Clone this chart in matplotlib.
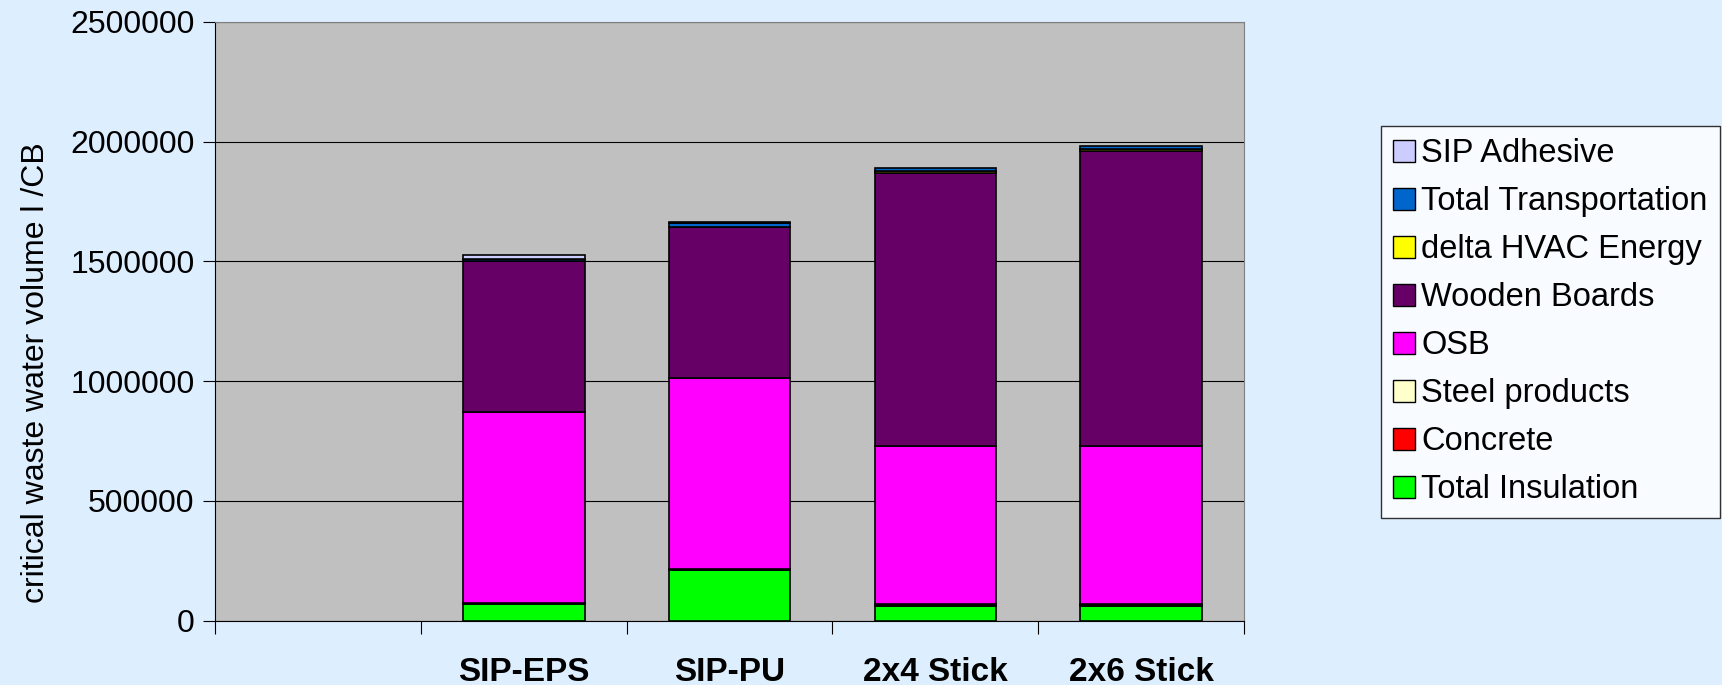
import matplotlib
matplotlib.use('Agg')
import matplotlib.pyplot as plt
import matplotlib.ticker as mticker
import numpy as np
from matplotlib.patches import Patch

plt.rcParams['font.family'] = ['Liberation Sans', 'DejaVu Sans']

categories = ['', 'SIP-EPS', 'SIP-PU', '2x4 Stick', '2x6 Stick']

# stacked from the bottom up
total_insulation = [0, 70000, 210000, 62000, 62000]
concrete = [0, 2000, 2000, 3000, 3000]
steel_products = [0, 3000, 3000, 5000, 5000]
osb = [0, 795000, 800000, 660000, 660000]
wooden_boards = [0, 630000, 630000, 1140000, 1230000]
delta_hvac = [0, 0, 0, 8000, 8000]
transportation = [0, 8000, 15000, 12000, 12000]
sip_adhesive = [0, 18000, 5000, 0, 0]

series = [
    ('Total Insulation', total_insulation, '#00FF00'),
    ('Concrete', concrete, '#FF0000'),
    ('Steel products', steel_products, '#FFFFCC'),
    ('OSB', osb, '#FF00FF'),
    ('Wooden Boards', wooden_boards, '#660066'),
    ('delta HVAC Energy', delta_hvac, '#FFFF00'),
    ('Total Transportation', transportation, '#0066CC'),
    ('SIP Adhesive', sip_adhesive, '#CCCCFF'),
]

bg = '#DDEEFF'
fig = plt.figure(figsize=(17.22, 6.85), dpi=100, facecolor=bg)
ax = fig.add_axes([0.125, 0.094, 0.5974, 0.874])
ax.set_facecolor('#C0C0C0')

x = np.arange(len(categories))
bottom = np.zeros(len(categories))
for name, vals, color in series:
    vals = np.array(vals, dtype=float)
    show = vals > 0
    ax.bar(x[show], vals[show], 0.59, bottom=bottom[show], color=color,
           edgecolor='black', linewidth=1.2, zorder=3)
    bottom += vals

ax.set_xlim(-0.5, len(categories) - 0.5)
ax.set_ylim(0, 2500000)
ax.set_yticks(np.arange(0, 2500001, 500000))
ax.yaxis.set_major_formatter(mticker.FuncFormatter(lambda v, p: '%d' % v))
ax.yaxis.grid(True, color='black', linewidth=0.8, zorder=0)
ax.set_axisbelow(True)

ax.set_xticks(np.arange(len(categories) + 1) - 0.5)
ax.set_xticklabels([])
ax.set_xticks(x, minor=True)
ax.set_xticklabels(categories, minor=True, fontsize=24, fontweight='bold',
                   family=['Liberation Sans Narrow', 'Liberation Sans'])
ax.tick_params(axis='x', which='minor', length=0, pad=26)
ax.tick_params(axis='x', which='major', length=9, color='black', direction='out')
ax.tick_params(axis='y', length=9, labelsize=23, direction='out', pad=6)

for s in ['top', 'right']:
    ax.spines[s].set_color('#808080')
ax.spines['left'].set_color('black')
ax.spines['bottom'].set_color('black')

ax.set_ylabel('critical waste water volume l /CB', fontsize=23)
ax.yaxis.set_label_coords(-0.160, 0.415)

handles = [Patch(facecolor=c, edgecolor='black', label=n) for n, v, c in series][::-1]
leg = fig.legend(handles=handles, loc='upper left', bbox_to_anchor=(0.802, 0.816),
                 fontsize=23.5, frameon=True, fancybox=False, handlelength=0.65,
                 handleheight=0.65, handletextpad=0.2, labelspacing=0.52,
                 borderpad=0.38, borderaxespad=0)
leg.get_frame().set_edgecolor('black')
leg.get_frame().set_facecolor('white')
leg.get_frame().set_linewidth(1)

fig.savefig('out.png', dpi=100, facecolor=bg)
